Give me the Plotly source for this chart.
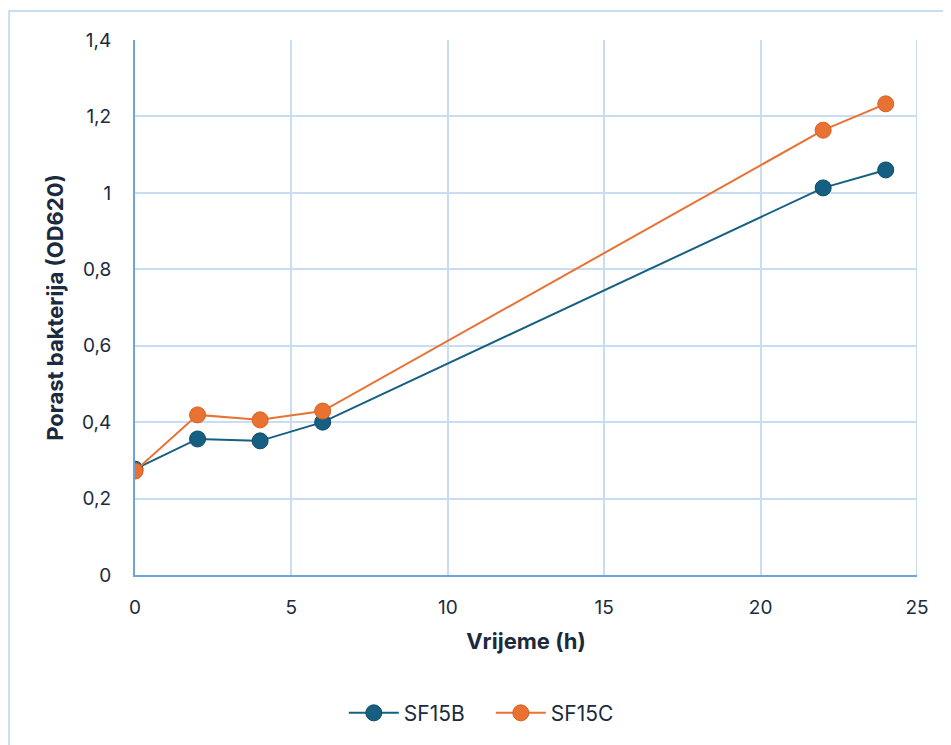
import plotly.graph_objects as go

time_h = [0, 2, 4, 6, 22, 24]
sf15b = [0.277, 0.356, 0.351, 0.400, 1.013, 1.060]
sf15c = [0.272, 0.419, 0.406, 0.429, 1.164, 1.233]

y_ticks = [0, 0.2, 0.4, 0.6, 0.8, 1.0, 1.2, 1.4]
y_tick_labels = ["0", "0,2", "0,4", "0,6", "0,8", "1", "1,2", "1,4"]
x_ticks = [0, 5, 10, 15, 20, 25]

text_color = "#1b2a3d"
grid_color = "#c9ddf2"
axis_color = "#6fa3dc"
font_family = "Inter, Roboto, 'Open Sans', sans-serif"

fig = go.Figure()
fig.add_trace(go.Scatter(
    x=time_h, y=sf15b, name="SF15B", mode="lines+markers",
    line=dict(color="#156082", width=2),
    marker=dict(size=16, color="#156082", line=dict(color="#0f4a66", width=1)),
))
fig.add_trace(go.Scatter(
    x=time_h, y=sf15c, name="SF15C", mode="lines+markers",
    line=dict(color="#E97132", width=2),
    marker=dict(size=16, color="#E97132", line=dict(color="#d8621f", width=1)),
))

fig.update_layout(
    width=951, height=745,
    margin=dict(l=127, r=42, t=32, b=178),
    paper_bgcolor="white", plot_bgcolor="white",
    font=dict(family=font_family, color=text_color, size=19),
    showlegend=True,
    legend=dict(orientation="h", x=0.455, xanchor="center", y=-0.22, yanchor="top",
                font=dict(size=21, color=text_color), itemwidth=50,
                entrywidth=82, entrywidthmode="pixels"),
    xaxis=dict(
        range=[0, 25], tickvals=x_ticks, showgrid=True, gridcolor=grid_color, gridwidth=2,
        showline=True, linecolor=axis_color, linewidth=2, zeroline=False,
        ticks="", ticklabelstandoff=14, tickfont=dict(size=19),
        title=dict(text="<b>Vrijeme (h)</b>", font=dict(size=22, color=text_color), standoff=16),
    ),
    yaxis=dict(
        range=[0, 1.4], tickvals=y_ticks, ticktext=y_tick_labels, showgrid=True,
        gridcolor=grid_color, gridwidth=2,
        showline=True, linecolor=axis_color, linewidth=2, zeroline=False,
        ticks="", ticklabelstandoff=18, tickfont=dict(size=19),
        title=dict(text="<b>Porast bakterija (OD620)</b>", font=dict(size=22, color=text_color), standoff=12),
    ),
)

# right edge gridline at x=25 (plot border)
fig.add_shape(type="line", xref="x", yref="paper", x0=25, x1=25, y0=0, y1=1,
              line=dict(color=grid_color, width=2), layer="below")
# outer chart border (clipped at right and bottom)
fig.add_shape(type="rect", xref="paper", yref="paper",
              x0=-0.161, x1=1.2, y0=-0.35, y1=1.054,
              line=dict(color="#c9ddf2", width=2), fillcolor="rgba(0,0,0,0)", layer="below")

fig.write_html("out.html")
